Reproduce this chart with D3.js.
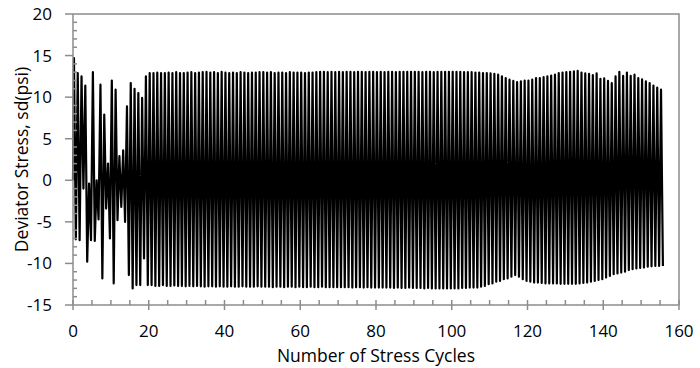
<!DOCTYPE html>
<html>
<head>
<meta charset="utf-8">
<script src="https://cdn.jsdelivr.net/npm/d3@7"></script>
<style>
  html, body { margin: 0; padding: 0; background: #fff; }
  svg { display: block; }
  text { font-family: "Open Sans", sans-serif; fill: #000; }
</style>
</head>
<body>
<div id="chart"></div>
<script>
// ---- data ----
const xTicks = [0, 20, 40, 60, 80, 100, 120, 140, 160];
const yTicks = [-15, -10, -5, 0, 5, 10, 15, 20];
const xTitle = "Number of Stress Cycles";
const yTitle = "Deviator Stress, sd(psi)";

// peak value of each stress cycle (cycle 0 .. 155)
const peakValues = [
  14.7, 12.9, 12.5, 11.4, -0.4, 13.0, 0.0, 11.5, 7.9, 2.0,
  12.0, 10.9, 2.9, 3.6, 8.9, 11.7, 11.0, 10.5, 9.9, 12.5,
  12.9, 12.9, 12.95, 12.9, 12.9, 12.95, 12.9, 13.0, 12.9, 12.9,
  12.95, 13.0, 12.9, 12.95, 13.0, 13.05, 12.95, 13.0, 12.9, 13.05,
  12.95, 12.9, 12.95, 12.9, 13.0, 12.95, 12.9, 12.95, 12.95, 13.0,
  13.0, 12.95, 13.0, 12.9, 12.95, 12.95, 12.9, 13.0, 12.95, 12.95,
  12.95, 12.9, 12.95, 12.95, 13.0, 13.05, 13.05, 13.0, 13.05, 13.0,
  13.05, 13.0, 13.05, 13.05, 13.0, 13.05, 13.05, 13.0, 13.05, 13.05,
  13.0, 13.05, 13.0, 13.05, 13.05, 13.0, 13.05, 13.05, 13.05, 13.05,
  13.05, 13.05, 13.0, 13.05, 13.05, 13.0, 13.05, 13.05, 13.05, 13.05,
  13.05, 13.05, 13.05, 13.0, 13.0, 13.0, 12.95, 12.95, 12.9, 12.9,
  12.85, 12.8, 12.7, 12.5, 12.3, 12.1, 11.95, 11.8, 11.9, 12.0,
  12.0, 12.1, 12.3, 12.3, 12.4, 12.5, 12.6, 12.7, 12.9, 12.95,
  13.0, 13.05, 13.1, 13.15, 12.95, 12.85, 12.8, 12.65, 12.85, 12.2,
  12.25, 11.95, 11.7, 12.5, 13.05, 12.55, 12.95, 12.55, 12.7, 12.3,
  12.15, 11.9, 11.7, 11.4, 11.15, 10.9
];

// trough value following each peak (cycle 0 .. 155)
const troughValues = [
  -7.1, -7.2, -1.0, -9.8, -7.2, -7.3, -4.7, -11.8, -3.4, -7.0,
  -12.4, -4.8, -3.2, -5.0, -11.4, -13.0, -12.6, -12.6, -9.4, -12.6,
  -12.6, -12.7, -12.7, -12.6, -12.7, -12.7, -12.65, -12.7, -12.7, -12.75,
  -12.7, -12.75, -12.7, -12.75, -12.8, -12.75, -12.75, -12.8, -12.75, -12.8,
  -12.8, -12.75, -12.8, -12.8, -12.75, -12.8, -12.8, -12.8, -12.75, -12.8,
  -12.8, -12.8, -12.85, -12.8, -12.8, -12.85, -12.8, -12.8, -12.85, -12.8,
  -12.85, -12.85, -12.8, -12.85, -12.85, -12.8, -12.85, -12.85, -12.85, -12.85,
  -12.85, -12.85, -12.85, -12.9, -12.85, -12.85, -12.9, -12.85, -12.9, -12.9,
  -12.9, -12.9, -12.9, -12.9, -12.95, -12.9, -12.95, -12.95, -12.9, -12.95,
  -12.95, -12.95, -13.0, -12.95, -13.0, -13.0, -13.0, -13.0, -13.0, -13.0,
  -13.0, -13.0, -12.95, -12.95, -12.9, -12.9, -12.9, -12.8, -12.7, -12.5,
  -12.4, -12.2, -12.1, -11.9, -11.8, -11.6, -11.4, -11.6, -11.9, -12.1,
  -12.2, -12.3, -12.3, -12.35, -12.4, -12.4, -12.4, -12.4, -12.45, -12.45,
  -12.45, -12.45, -12.45, -12.4, -12.35, -12.3, -12.2, -12.1, -12.0, -11.9,
  -11.7, -11.5, -11.3, -11.2, -11.1, -11.0, -10.8, -10.7, -10.6, -10.55,
  -10.5, -10.4, -10.35, -10.3, -10.3, -10.3
];

// ---- layout ----
const W = 700, H = 368;
const m = { left: 73, right: 21, top: 14, bottom: 63 };
const axisColor = "#8c8c8c";

const svg = d3.select("#chart").append("svg")
  .attr("width", W).attr("height", H);

const x = d3.scaleLinear().domain([0, 160]).range([m.left, W - m.right]);
const y = d3.scaleLinear().domain([-15, 20]).range([H - m.bottom, m.top]);

// build the waveform points: start at zero, then peak / trough per cycle
const pts = [[0, 0]];
peakValues.forEach((p, i) => {
  pts.push([i + 0.25, p]);
  pts.push([i + 0.75, troughValues[i]]);
});

const line = d3.line().x(d => x(d[0])).y(d => y(d[1]));

// plot frame (top + right borders)
const x0 = x(0), x1 = x(160), yTop = y(20), yBot = y(-15);
svg.append("path")
  .attr("d", `M${x0},${yTop}H${x1}V${yBot}`)
  .attr("fill", "none").attr("stroke", axisColor).attr("stroke-width", 1.5);

// data line
svg.append("path")
  .datum(pts)
  .attr("d", line)
  .attr("fill", "none")
  .attr("stroke", "#000")
  .attr("stroke-width", 2.2)
  .attr("stroke-linejoin", "round");

// x axis
const xMinor = d3.range(0, 161, 5).filter(v => v % 20 !== 0);
const gx = svg.append("g");
gx.append("line").attr("x1", x0).attr("x2", x1).attr("y1", yBot).attr("y2", yBot)
  .attr("stroke", axisColor).attr("stroke-width", 1.5);
gx.selectAll("line.maj").data(xTicks).join("line").attr("class", "maj")
  .attr("x1", d => x(d)).attr("x2", d => x(d))
  .attr("y1", yBot - 5).attr("y2", yBot + 5)
  .attr("stroke", axisColor).attr("stroke-width", 1.5);
gx.selectAll("line.min").data(xMinor).join("line").attr("class", "min")
  .attr("x1", d => x(d)).attr("x2", d => x(d))
  .attr("y1", yBot - 5).attr("y2", yBot)
  .attr("stroke", axisColor).attr("stroke-width", 1.5);
gx.selectAll("text").data(xTicks).join("text")
  .attr("x", d => x(d)).attr("y", 337)
  .attr("text-anchor", "middle")
  .attr("font-size", 17)
  .text(d => d);

// y axis
const yMinor = d3.range(-15, 21, 1).filter(v => v % 5 !== 0);
const gy = svg.append("g");
gy.append("line").attr("x1", x0).attr("x2", x0).attr("y1", yTop).attr("y2", yBot)
  .attr("stroke", axisColor).attr("stroke-width", 1.5);
gy.selectAll("line.maj").data(yTicks).join("line").attr("class", "maj")
  .attr("x1", x0 - 8).attr("x2", x0)
  .attr("y1", d => y(d)).attr("y2", d => y(d))
  .attr("stroke", axisColor).attr("stroke-width", 1.5);
gy.selectAll("line.min").data(yMinor).join("line").attr("class", "min")
  .attr("x1", x0).attr("x2", x0 + 4)
  .attr("y1", d => y(d)).attr("y2", d => y(d))
  .attr("stroke", axisColor).attr("stroke-width", 1.5);
gy.selectAll("text").data(yTicks).join("text")
  .attr("x", 52).attr("y", d => y(d))
  .attr("dy", "0.35em")
  .attr("text-anchor", "end")
  .attr("font-size", 17)
  .text(d => d);

// titles
svg.append("text")
  .attr("x", (x0 + x1) / 2).attr("y", 362)
  .attr("text-anchor", "middle")
  .attr("font-size", 17.5)
  .text(xTitle);

svg.append("text")
  .attr("transform", `translate(28,${(yTop + yBot) / 2}) rotate(-90)`)
  .attr("text-anchor", "middle")
  .attr("font-size", 17.5)
  .text(yTitle);
</script>
</body>
</html>
